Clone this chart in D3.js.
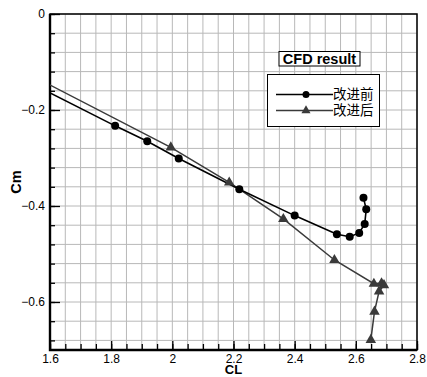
<!DOCTYPE html>
<html>
<head>
<meta charset="utf-8">
<script src="https://cdn.jsdelivr.net/npm/d3@7"></script>
<style>
  body { margin: 0; background: #fff; }
  svg text { font-family: "Liberation Sans", Arial, sans-serif; }
  .grid line { stroke: #b8b8b8; stroke-width: 1; }
  .axis path { display: none; }
  .axis line { stroke: #000; stroke-width: 1.3; }
  .axis text { font-size: 12px; fill: #000; }
</style>
</head>
<body>
<svg id="chart" width="427" height="377"></svg>
<script>
// CL / Cm values (first point sits left of the frame and is clipped)
var clBefore = [1.5, 1.813, 1.918, 2.021, 2.219, 2.400, 2.538, 2.580, 2.611, 2.629, 2.634, 2.625];
var cmBefore = [-0.132, -0.233, -0.265, -0.301, -0.365, -0.420, -0.459, -0.464, -0.456, -0.4375, -0.407, -0.383];
var clAfter = [1.5, 1.995, 2.186, 2.363, 2.530, 2.659, 2.684, 2.692, 2.676, 2.661, 2.649];
var cmAfter = [-0.115, -0.278, -0.351, -0.427, -0.5125, -0.562, -0.561, -0.565, -0.578, -0.620, -0.679];
var seriesNames = ["改进前", "改进后"];
var xTicks = [1.6, 1.8, 2.0, 2.2, 2.4, 2.6, 2.8];
var yTicks = [0, -0.2, -0.4, -0.6];

var margin = {top: 14, left: 50, right: 10, bottom: 27};
var width = 427, height = 377;
var svg = d3.select("#chart");

var x = d3.scaleLinear().domain([1.6, 2.8]).range([margin.left, width - margin.right]);
var y = d3.scaleLinear().domain([-0.7, 0]).range([height - margin.bottom, margin.top]);

var xMinor = d3.range(0, 25).map(function (i) { return 1.6 + i * 0.05; });
var yMinor = d3.range(0, 18).map(function (i) { return -i * 0.04; });

// grid
var grid = svg.append("g").attr("class", "grid");
grid.selectAll(".gx").data(xMinor).enter().append("line")
    .attr("x1", function (d) { return x(d); }).attr("x2", function (d) { return x(d); })
    .attr("y1", y(0)).attr("y2", y(-0.7));
grid.selectAll(".gy").data(yMinor).enter().append("line")
    .attr("y1", function (d) { return y(d); }).attr("y2", function (d) { return y(d); })
    .attr("x1", x(1.6)).attr("x2", x(2.8));

// axes (ticks point inward)
svg.append("g").attr("class", "axis")
    .attr("transform", "translate(0," + y(-0.7) + ")")
    .call(d3.axisBottom(x).tickValues(xMinor).tickSize(-6).tickFormat(""));
svg.append("g").attr("class", "axis")
    .attr("transform", "translate(0," + y(-0.7) + ")")
    .call(d3.axisBottom(x).tickValues(xTicks).tickSize(-9).tickPadding(4)
        .tickFormat(function (d) { return d3.format("")(Math.round(d * 10) / 10); }));
svg.append("g").attr("class", "axis")
    .attr("transform", "translate(" + x(1.6) + ",0)")
    .call(d3.axisLeft(y).tickValues(yMinor).tickSize(-5).tickFormat(""));
svg.append("g").attr("class", "axis")
    .attr("transform", "translate(" + x(1.6) + ",0)")
    .call(d3.axisLeft(y).tickValues(yTicks).tickSize(-10).tickPadding(5)
        .tickFormat(function (d) { return d === 0 ? "0" : d3.format(".1f")(d); }));

// frame
svg.append("rect")
    .attr("x", x(1.6)).attr("y", y(0))
    .attr("width", x(2.8) - x(1.6)).attr("height", y(-0.7) - y(0))
    .attr("fill", "none").attr("stroke", "#000").attr("stroke-width", 1.5);
svg.append("path")
    .attr("d", "M" + x(1.6) + "," + y(0) + "V" + y(-0.7) + "H" + x(2.8))
    .attr("fill", "none").attr("stroke", "#000").attr("stroke-width", 2.4);

// clip
svg.append("clipPath").attr("id", "clip").append("rect")
    .attr("x", x(1.6)).attr("y", y(0))
    .attr("width", x(2.8) - x(1.6)).attr("height", y(-0.7) - y(0));

var line = d3.line().x(function (d) { return x(d[0]); }).y(function (d) { return y(d[1]); });
var before = d3.zip(clBefore, cmBefore);
var after = d3.zip(clAfter, cmAfter);
var tri = d3.symbol().type(d3.symbolTriangle).size(48);

var plot = svg.append("g").attr("clip-path", "url(#clip)");
plot.append("path").datum(after).attr("d", line)
    .attr("fill", "none").attr("stroke", "#3a3a3a").attr("stroke-width", 1.5);
plot.append("path").datum(before).attr("d", line)
    .attr("fill", "none").attr("stroke", "#000").attr("stroke-width", 1.6);
plot.selectAll(".tri").data(after).enter().append("path")
    .attr("d", tri)
    .attr("transform", function (d) { return "translate(" + x(d[0]) + "," + y(d[1]) + ")"; })
    .attr("fill", "#3a3a3a");
plot.selectAll(".dot").data(before).enter().append("circle")
    .attr("cx", function (d) { return x(d[0]); })
    .attr("cy", function (d) { return y(d[1]); })
    .attr("r", 4).attr("fill", "#000");

// axis titles
svg.append("text").attr("x", (x(1.6) + x(2.8)) / 2).attr("y", 374)
    .attr("text-anchor", "middle").style("font-size", "13px").style("font-weight", "bold").text("CL");
svg.append("text").attr("transform", "translate(20.5," + ((y(0) + y(-0.7)) / 2) + ") rotate(-90)")
    .attr("text-anchor", "middle").style("font-size", "14.5px").style("font-weight", "bold").text("Cm");

// legend
var lg = svg.append("g");
lg.append("rect").attr("x", 279).attr("y", 51.5).attr("width", 81).attr("height", 14.5)
    .attr("fill", "#fff").attr("stroke", "#000").attr("stroke-width", 1);
lg.append("text").attr("x", 319.5).attr("y", 64).attr("text-anchor", "middle")
    .style("font-size", "14.5px").style("font-weight", "bold").text("CFD result");
lg.append("rect").attr("x", 267.5).attr("y", 74.5).attr("width", 112).attr("height", 52)
    .attr("fill", "#fff").attr("stroke", "#000").attr("stroke-width", 1);
var rows = [94.5, 110.5];
rows.forEach(function (ry, i) {
    lg.append("line").attr("x1", 276).attr("x2", 333).attr("y1", ry).attr("y2", ry)
        .attr("stroke", i === 0 ? "#000" : "#3a3a3a").attr("stroke-width", 1.5);
    if (i === 0) {
        lg.append("circle").attr("cx", 306).attr("cy", ry).attr("r", 3.5).attr("fill", "#000");
    } else {
        lg.append("path").attr("d", d3.symbol().type(d3.symbolTriangle).size(36))
            .attr("transform", "translate(306," + ry + ")").attr("fill", "#3a3a3a");
    }
    lg.append("text").attr("x", 333).attr("y", ry + 4.8)
        .style("font-family", "'Noto Sans CJK SC', sans-serif").style("font-size", "13.5px")
        .text(seriesNames[i]);
});
</script>
</body>
</html>
